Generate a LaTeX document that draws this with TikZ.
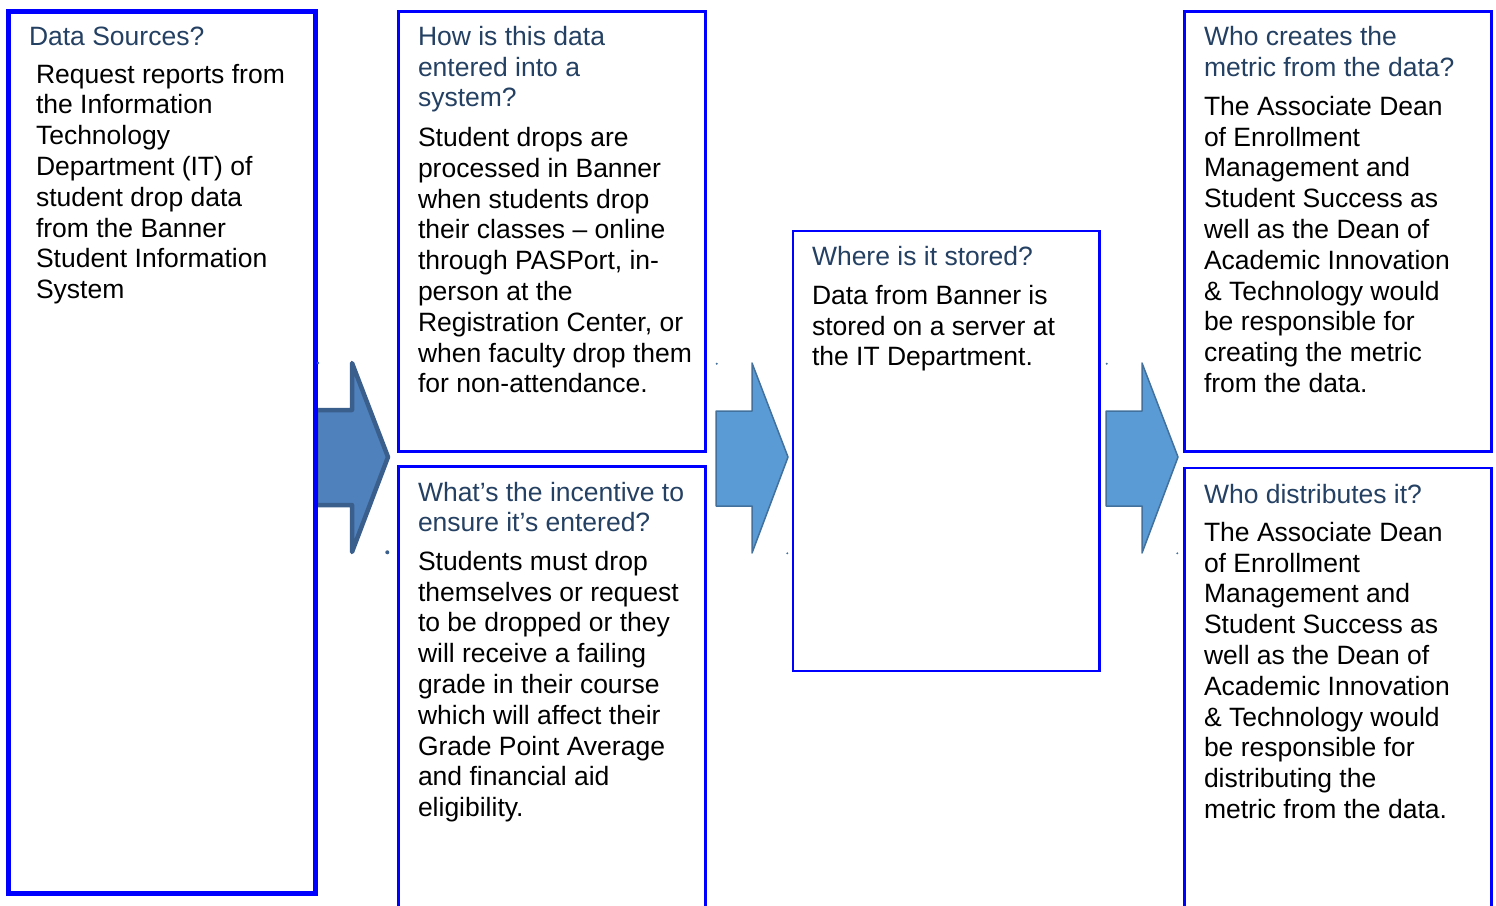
\documentclass[tikz,border=0pt]{standalone}
\usepackage{fontspec}
\setmainfont{Liberation Sans}
\definecolor{boxblue}{RGB}{0,0,255}
\definecolor{titleblue}{RGB}{36,64,98}
\definecolor{arrowfillA}{RGB}{79,129,189}
\definecolor{arrowlineA}{RGB}{58,95,140}
\definecolor{arrowfillB}{RGB}{91,155,213}
\definecolor{arrowlineB}{RGB}{65,113,156}
\newcommand{\txtblock}[1]{\parbox[t]{420pt}{\raggedright #1\par}}
\begin{document}
\begin{tikzpicture}[x=1pt,y=-1pt,
  box/.style={draw=boxblue, line width=2.5pt, fill=white, anchor=north west, inner sep=0pt, outer sep=0pt},
  heavybox/.style={box, line width=5pt},
  txt/.style={anchor=base west, inner sep=0pt, outer sep=0pt, font=\fontsize{26.5pt}{30.8pt}\selectfont},
  ttl/.style={txt, text=titleblue},
  bdy/.style={txt, text=black},
  bigarrow/.style={fill=arrowfillA, draw=arrowlineA, line width=4.5pt, line join=round},
  smallarrow/.style={fill=arrowfillB, draw=arrowlineB, line width=1.5pt, line join=round},
  speck/.style={fill=arrowlineB}
]
\useasboundingbox (0,0) rectangle (1496,905);
\clip (0,0) rectangle (1496,905);

% arrows
\draw[bigarrow] (316,410) -- (352,410) -- (352,363) -- (388,457) -- (352,552) -- (352,505) -- (316,505) -- cycle;
\draw[smallarrow] (716,411) -- (752,411) -- (752,363) -- (788,457) -- (752,553) -- (752,506) -- (716,506) -- cycle;
\draw[smallarrow] (1106,411) -- (1142,411) -- (1142,363) -- (1178,457) -- (1142,553) -- (1142,506) -- (1106,506) -- cycle;

% boxes
\node[heavybox, minimum width=307pt, minimum height=882.7pt] (src) at (8.5,11) {};
\node[box, minimum width=306.6pt, minimum height=440pt] (entry) at (398.7,11.3) {};
\node[box, minimum width=306.6pt, minimum height=460pt] (incent) at (398.7,466.3) {};
\node[box, minimum width=306.5pt, minimum height=440pt] (store) at (793,231) {};
\node[box, minimum width=306.6pt, minimum height=440pt] (create) at (1184.7,11.3) {};
\node[box, minimum width=306.6pt, minimum height=460pt] (distr) at (1184.7,468) {};

% specks
\fill[arrowlineA] (318,363) circle (1.3);
\fill[arrowlineA] (387.3,552.3) circle (2);
\fill[speck] (716.7,363.7) circle (1.1);
\fill[speck] (787.3,553.3) circle (1.1);
\fill[speck] (1106.7,363.7) circle (1.1);
\fill[speck] (1177.3,553.3) circle (1.1);

% texts
\node[ttl] (srcT) at (29,45.3) {\txtblock{Data Sources?}};
\node[bdy] (srcB) at (36,83) {\txtblock{Request reports from\\the Information\\Technology\\Department (IT) of\\student drop data\\from the Banner\\Student Information\\System}};

\node[ttl] (entryT) at (418,45.3) {\txtblock{How is this data\\entered into a\\system?}};
\node[bdy] (entryB) at (418,146.5) {\txtblock{Student drops are\\processed in Banner\\when students drop\\their classes – online\\through PASPort, in-\\person at the\\Registration Center, or\\when faculty drop them\\for non-attendance.}};

\node[ttl] (incentT) at (418,501) {\txtblock{What’s the incentive to\\ensure it’s entered?}};
\node[bdy] (incentB) at (418,570.3) {\txtblock{Students must drop\\themselves or request\\to be dropped or they\\will receive a failing\\grade in their course\\which will affect their\\Grade Point Average\\and financial aid\\eligibility.}};

\node[ttl] (storeT) at (812,265.5) {\txtblock{Where is it stored?}};
\node[bdy] (storeB) at (812,304.3) {\txtblock{Data from Banner is\\stored on a server at\\the IT Department.}};

\node[ttl] (createT) at (1204,45.3) {\txtblock{Who creates the\\metric from the data?}};
\node[bdy] (createB) at (1204,115.3) {\txtblock{The Associate Dean\\of Enrollment\\Management and\\Student Success as\\well as the Dean of\\Academic Innovation\\\& Technology would\\be responsible for\\creating the metric\\from the data.}};

\node[ttl] (distrT) at (1204,503) {\txtblock{Who distributes it?}};
\node[bdy] (distrB) at (1204,541.2) {\txtblock{The Associate Dean\\of Enrollment\\Management and\\Student Success as\\well as the Dean of\\Academic Innovation\\\& Technology would\\be responsible for\\distributing the\\metric from the data.}};
\end{tikzpicture}
\end{document}
